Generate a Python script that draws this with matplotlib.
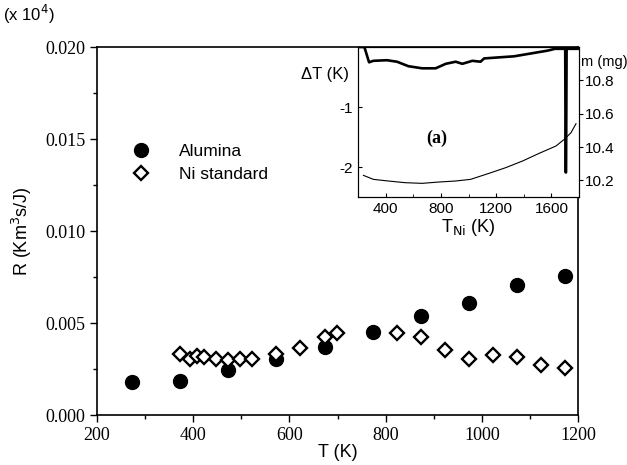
import matplotlib
matplotlib.use("Agg")
import matplotlib.pyplot as plt
from matplotlib.ticker import MultipleLocator, FormatStrFormatter

# main plot data
T_alumina = [273, 373, 473, 573, 673, 773, 873, 973, 1073, 1173]
R_alumina = [0.0018, 0.00185, 0.00244, 0.00307, 0.00371, 0.00453, 0.00538, 0.00611, 0.00709, 0.00753]

T_ni = [373, 393, 408, 423, 448, 473, 498, 523, 573, 623, 673, 698,
        823, 873, 923, 973, 1023, 1073, 1123, 1173]
R_ni = [0.00331, 0.00307, 0.0032, 0.00316, 0.00304, 0.00298, 0.00304, 0.00304,
        0.00331, 0.00362, 0.00425, 0.00447, 0.00447, 0.00422, 0.00356, 0.00302,
        0.00325, 0.00313, 0.00271, 0.00253]

# inset (a): DTA signal and sample mass vs T_Ni
T_dta = [200, 246, 280, 311, 409, 482, 565, 664, 762, 835, 907, 955, 1028, 1087,
         1113, 1330, 1573, 1626, 1690, 1700, 1703, 1706, 1710, 1720, 1790]
dT = [0.0, 0.0, -0.255, -0.23, -0.22, -0.245, -0.32, -0.355, -0.355, -0.28, -0.245,
      -0.28, -0.23, -0.245, -0.19, -0.155, -0.06, -0.03, -0.03, -0.03, -2.09, -2.09,
      -0.03, -0.03, -0.03]

T_m = [239, 311, 420, 542, 664, 785, 905, 1015, 1148, 1269, 1391, 1511, 1633, 1693, 1742, 1778]
m = [10.23, 10.206, 10.196, 10.186, 10.182, 10.19, 10.196, 10.206, 10.242, 10.276,
     10.316, 10.362, 10.406, 10.446, 10.486, 10.54]

sans = "Liberation Sans"
serif = "Liberation Serif"

fig = plt.figure(figsize=(6.27, 4.65), dpi=100)
ax = fig.add_axes([0.1547, 0.1075, 0.7672, 0.7914])

ax.plot(T_alumina, R_alumina, "o", color="black", ms=10, label="Alumina", zorder=3)
ax.plot(T_ni, R_ni, "D", mfc="white", mec="black", mew=1.7, ms=7.2,
        label="Ni standard", zorder=4)

ax.set_xlim(200, 1200)
ax.set_ylim(0, 0.020)
ax.xaxis.set_major_locator(MultipleLocator(200))
ax.xaxis.set_minor_locator(MultipleLocator(100))
ax.yaxis.set_major_locator(MultipleLocator(0.005))
ax.yaxis.set_minor_locator(MultipleLocator(0.0025))
ax.yaxis.set_major_formatter(FormatStrFormatter("%.3f"))
ax.tick_params(which="both", direction="out", top=False, right=False)
ax.tick_params(which="major", length=5, width=1)
ax.tick_params(which="minor", length=3, width=1)
for lab in ax.get_xticklabels() + ax.get_yticklabels():
    lab.set_fontfamily(serif)
    lab.set_fontsize(13)
for sp in ax.spines.values():
    sp.set_linewidth(1.2)

ax.set_xlabel("T (K)", fontfamily=sans, fontsize=13, labelpad=0)
ax.set_ylabel("R (Km$^3$s/J)", fontfamily=sans, fontsize=13, labelpad=8)
fig.text(0.005, 0.955, "(x 10$^4$)", fontfamily=sans, fontsize=12)

ax.legend(loc="upper left", bbox_to_anchor=(0.04, 0.755), frameon=False,
          prop={"family": sans, "size": 12.5}, handletextpad=1.2,
          labelspacing=0.45, borderaxespad=0)

# inset
axi = fig.add_axes([0.571, 0.5763, 0.3525, 0.3226])
axi.plot(T_dta, dT, color="black", lw=1.9)
axi.set_xlim(200, 1800)
axi.set_ylim(-2.5, 0.0)
axi.xaxis.set_major_locator(MultipleLocator(400))
axi.xaxis.set_minor_locator(MultipleLocator(200))
axi.set_yticks([-1, -2])
axi.set_yticklabels(["-1", "-2"])
axi.tick_params(which="both", direction="in", labelsize=11, top=False, right=False)
axi.tick_params(which="major", length=3)
axi.tick_params(which="minor", length=2)
for lab in axi.get_xticklabels() + axi.get_yticklabels():
    lab.set_fontfamily(sans)
axi.set_xlabel("T$_{\\mathrm{Ni}}$ (K)", fontfamily=sans, fontsize=13, labelpad=1)
axi.text(-0.26, 0.82, "\u0394T (K)", transform=axi.transAxes,
         fontfamily=sans, fontsize=12, ha="left", va="center")
axi.text(767, -1.53, "(a)", fontfamily=serif, fontsize=13, fontweight="bold",
         ha="center", va="center")

axm = axi.twinx()
axm.plot(T_m, m, color="black", lw=0.8)
axm.set_ylim(10.1, 11.0)
axm.set_yticks([10.2, 10.4, 10.6, 10.8])
axm.tick_params(direction="out", length=3, labelsize=11, pad=1)
for lab in axm.get_yticklabels():
    lab.set_fontfamily(sans)
axm.text(1.01, 0.9, "m (mg)", transform=axm.transAxes, fontfamily=sans,
         fontsize=10.5, ha="left", va="center")

fig.savefig("out.png", dpi=100)
